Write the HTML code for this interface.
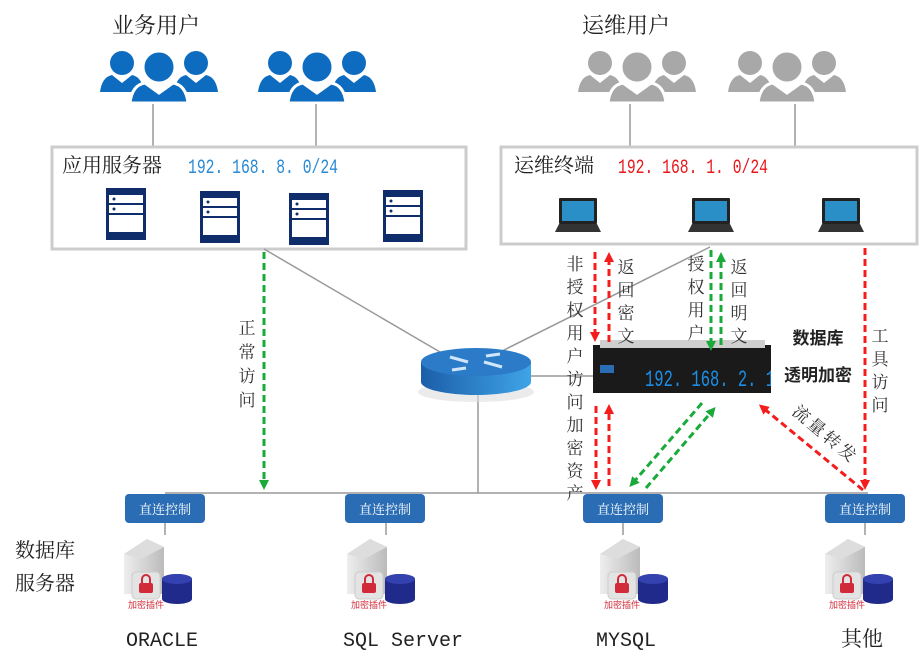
<!DOCTYPE html>
<html><head><meta charset="utf-8"><style>
html,body{margin:0;padding:0;background:#fff;}
svg{display:block;font-family:"Liberation Sans","Noto Sans CJK SC",sans-serif;}
.cn{font-family:"Liberation Serif","Noto Serif CJK SC",serif;}
.mono{font-family:"Liberation Mono","Noto Sans CJK SC",monospace;}
</style></head><body>
<svg width="924" height="666" viewBox="0 0 924 666" xmlns="http://www.w3.org/2000/svg">
<defs>
 <g id="users">
  <g>
   <circle cx="22" cy="18" r="12"/><path d="M0 47 Q2 32 12 30 L22 38 L32 30 Q42 32 44 47Z"/>
  </g>
  <g transform="translate(74,0)">
   <circle cx="22" cy="18" r="12"/><path d="M0 47 Q2 32 12 30 L22 38 L32 30 Q42 32 44 47Z"/>
  </g>
  <g stroke="#fff" stroke-width="3">
   <circle cx="59" cy="22" r="16"/><path d="M30 58 Q32 40 45 38 L59 48 L73 38 Q86 40 88 58Z"/>
  </g>
 </g>
 <g id="server">
  <rect x="0" y="0" width="40" height="52" fill="#0f2d6b"/>
  <rect x="3" y="7" width="34" height="8" fill="#fff"/>
  <rect x="3" y="17" width="34" height="8" fill="#fff"/>
  <rect x="3" y="27" width="34" height="17" fill="#fff"/>
  <circle cx="8" cy="11" r="1.5" fill="#0f2d6b"/><circle cx="8" cy="21" r="1.5" fill="#0f2d6b"/>
 </g>
 <g id="laptop">
  <rect x="4" y="0" width="38" height="26" rx="1" fill="#222"/>
  <rect x="7" y="3" width="32" height="20" fill="#2a8fc7"/>
  <path d="M0 34 L4 26 L42 26 L46 34Z" fill="#333"/>
 </g>
 <linearGradient id="rg" x1="0" x2="1"><stop offset="0" stop-color="#1b5ea8"/><stop offset="1" stop-color="#3fa4e6"/></linearGradient>
 <linearGradient id="sg" x1="0" x2="1"><stop offset="0" stop-color="#eee"/><stop offset="1" stop-color="#bbb"/></linearGradient>
 <clipPath id="apc"><rect x="593" y="340" width="178" height="55"/></clipPath>
 <g id="db">
  <path d="M17 55 L17 15 L40 0 L57 8 L57 55Z" fill="url(#sg)"/>
  <path d="M17 15 L40 0 L57 8 L34 20Z" fill="#ddd"/>
  <rect x="25" y="33" width="28" height="27" rx="4" fill="#e3e3e3" stroke="#ccc"/>
  <rect x="32" y="44" width="14" height="10" rx="2" fill="#d12b3a"/>
  <path d="M35 44 v-4 a4 4 0 0 1 8 0 v4" fill="none" stroke="#d12b3a" stroke-width="2"/>
  <path d="M55 40 a15 5 0 0 1 30 0 v20 a15 5 0 0 1 -30 0Z" fill="#1f2a8a"/>
  <ellipse cx="70" cy="40" rx="15" ry="5" fill="#3442b0"/>
  <text x="21" y="69" font-size="9" fill="#d12b3a">加密插件</text>
 </g>
 <g id="box">
  <rect x="0" y="0" width="80" height="29" rx="4" fill="#2a6db5"/>
  <text x="40" y="20" font-size="13" fill="#fff" text-anchor="middle" class="cn">直连控制</text>
 </g>
 <marker id="ar" markerUnits="userSpaceOnUse" markerWidth="10" markerHeight="10" refX="6" refY="5" orient="auto"><path d="M0 0 L10 5 L0 10Z" fill="#f41c1c"/></marker>
 <marker id="ag" markerUnits="userSpaceOnUse" markerWidth="10" markerHeight="10" refX="6" refY="5" orient="auto"><path d="M0 0 L10 5 L0 10Z" fill="#1aaa3a"/></marker>
</defs>

<text x="112" y="33" font-size="22" fill="#222" class="cn">业务用户</text>
<text x="582" y="33" font-size="22" fill="#222" class="cn">运维用户</text>

<g fill="#0e6cc0"><use href="#users" x="100" y="45"/><use href="#users" x="258" y="45"/></g>
<g fill="#a8a8a8"><use href="#users" x="578" y="45"/><use href="#users" x="728" y="45"/></g>

<g stroke="#999" stroke-width="1.5">
 <line x1="153" y1="104" x2="153" y2="148"/><line x1="316" y1="104" x2="316" y2="148"/>
 <line x1="630" y1="104" x2="630" y2="148"/><line x1="795" y1="104" x2="795" y2="148"/>
</g>

<rect x="52" y="147" width="414" height="102" fill="#fff" stroke="#ccc" stroke-width="3"/>
<text x="62" y="172" font-size="20" fill="#222" class="cn">应用服务器</text>
<text x="188" y="173" font-size="20" fill="#2a8ad3" class="mono" textLength="150" lengthAdjust="spacingAndGlyphs">192. 168. 8. 0/24</text>
<use href="#server" x="106" y="188"/><use href="#server" x="200" y="191"/>
<use href="#server" x="289" y="193"/><use href="#server" x="383" y="190"/>

<rect x="501" y="147" width="416" height="97" fill="#fff" stroke="#ccc" stroke-width="3"/>
<text x="514" y="172" font-size="20" fill="#222" class="cn">运维终端</text>
<text x="618" y="173" font-size="20" fill="#e8181c" class="mono" textLength="150" lengthAdjust="spacingAndGlyphs">192. 168. 1. 0/24</text>
<use href="#laptop" x="555" y="198"/><use href="#laptop" x="688" y="198"/><use href="#laptop" x="818" y="198"/>

<g stroke="#999" stroke-width="1.5" fill="none">
 <line x1="264" y1="249" x2="440" y2="352"/>
 <line x1="710" y1="247" x2="500" y2="352"/>
 <line x1="531" y1="376" x2="595" y2="376"/>
 <line x1="478" y1="395" x2="478" y2="493"/>
 <line x1="165" y1="493" x2="868" y2="493"/>
 <line x1="165" y1="523" x2="165" y2="535"/><line x1="386" y1="523" x2="386" y2="535"/>
 <line x1="623" y1="523" x2="623" y2="535"/><line x1="865" y1="523" x2="865" y2="535"/>
</g>

<ellipse cx="476" cy="392" rx="58" ry="10" fill="#ddd" opacity="0.6"/>
<path d="M421 362 L421 382 A55 13 0 0 0 531 382 L531 362Z" fill="url(#rg)"/>
<ellipse cx="476" cy="362" rx="55" ry="14" fill="#2b7bc8"/>
<g stroke="#cfe6fb" stroke-width="3"><line x1="450" y1="357" x2="468" y2="362"/><line x1="502" y1="367" x2="484" y2="362"/><line x1="466" y1="368" x2="452" y2="370"/><line x1="486" y1="356" x2="500" y2="354"/></g>

<rect x="593" y="345" width="178" height="48" fill="#1a1a1a"/>
<rect x="600" y="340" width="165" height="8" fill="#cfcfcf"/>
<rect x="600" y="365" width="14" height="8" fill="#2a6db5"/>
<g clip-path="url(#apc)"><text x="645" y="386" font-size="23" fill="#1b8ee8" class="mono" textLength="130" lengthAdjust="spacingAndGlyphs">192. 168. 2. 1</text></g>

<text x="818" y="344" font-size="17" font-weight="bold" fill="#222" text-anchor="middle">数据库</text>
<text x="818" y="381" font-size="17" font-weight="bold" fill="#222" text-anchor="middle">透明加密</text>

<g stroke-width="3" stroke-dasharray="7,4" fill="none">
 <line x1="264" y1="252" x2="264" y2="486" stroke="#1aaa3a" marker-end="url(#ag)"/>
 <line x1="595" y1="252" x2="595" y2="338" stroke="#f41c1c" marker-end="url(#ar)"/>
 <line x1="609" y1="342" x2="609" y2="256" stroke="#f41c1c" marker-end="url(#ar)"/>
 <line x1="711" y1="250" x2="711" y2="347" stroke="#1aaa3a" marker-end="url(#ag)"/>
 <line x1="721" y1="345" x2="721" y2="256" stroke="#1aaa3a" marker-end="url(#ag)"/>
 <line x1="596" y1="406" x2="596" y2="486" stroke="#f41c1c" marker-end="url(#ar)"/>
 <line x1="609" y1="486" x2="609" y2="408" stroke="#f41c1c" marker-end="url(#ar)"/>
 <line x1="702" y1="403" x2="632" y2="484" stroke="#1aaa3a" marker-end="url(#ag)"/>
 <line x1="646" y1="488" x2="713" y2="410" stroke="#1aaa3a" marker-end="url(#ag)"/>
 <line x1="865" y1="248" x2="865" y2="486" stroke="#f41c1c" marker-end="url(#ar)"/>
 <line x1="863" y1="490" x2="762" y2="407" stroke="#f41c1c" marker-end="url(#ar)"/>
</g>

<g font-size="17" fill="#333" text-anchor="middle" class="cn">
 <text x="247" y="334">正</text><text x="247" y="358">常</text><text x="247" y="382">访</text><text x="247" y="406">问</text>
 <text x="575" y="270">非</text><text x="575" y="293">授</text><text x="575" y="316">权</text><text x="575" y="339">用</text><text x="575" y="362">户</text><text x="575" y="385">访</text><text x="575" y="408">问</text><text x="575" y="431">加</text><text x="575" y="454">密</text><text x="575" y="477">资</text><text x="575" y="499">产</text>
 <text x="626" y="273">返</text><text x="626" y="296">回</text><text x="626" y="319">密</text><text x="626" y="342">文</text>
 <text x="696" y="270">授</text><text x="696" y="293">权</text><text x="696" y="316">用</text><text x="696" y="339">户</text>
 <text x="739" y="273">返</text><text x="739" y="296">回</text><text x="739" y="319">明</text><text x="739" y="342">文</text>
 <text x="880" y="342">工</text><text x="880" y="365">具</text><text x="880" y="388">访</text><text x="880" y="411">问</text>
 <g transform="rotate(40 825 435)"><text x="825" y="440" letter-spacing="3">流量转发</text></g>
</g>

<use href="#box" x="125" y="494"/><use href="#box" x="345" y="494"/>
<use href="#box" x="583" y="494"/><use href="#box" x="825" y="494"/>

<use href="#db" x="107" y="539"/><use href="#db" x="330" y="539"/>
<use href="#db" x="583" y="539"/><use href="#db" x="808" y="539"/>

<text x="15" y="557" font-size="20" fill="#222" class="cn">数据库</text>
<text x="15" y="590" font-size="20" fill="#222" class="cn">服务器</text>

<text x="162" y="646" font-size="20" fill="#222" class="mono" text-anchor="middle">ORACLE</text>
<text x="403" y="646" font-size="20" fill="#222" class="mono" text-anchor="middle">SQL Server</text>
<text x="626" y="646" font-size="20" fill="#222" class="mono" text-anchor="middle">MYSQL</text>
<text x="862" y="646" font-size="21" fill="#222" class="cn" text-anchor="middle">其他</text>
</svg>
</body></html>
